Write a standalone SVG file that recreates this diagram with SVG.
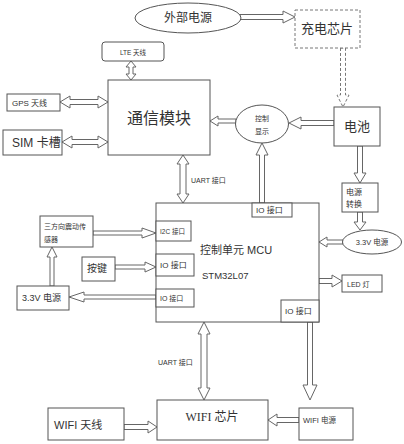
<svg xmlns="http://www.w3.org/2000/svg" width="404" height="444" viewBox="0 0 404 444">
<style>
.b{fill:#fff;stroke:#555;stroke-width:1}
.a{fill:#fff;stroke:#666;stroke-width:1;stroke-linejoin:miter}
.d{fill:#fff;stroke:#777;stroke-width:1;stroke-dasharray:3,2}
text{font-family:"Liberation Sans","Noto Sans CJK SC",sans-serif;fill:#333;dominant-baseline:central}
.c{text-anchor:middle}
</style>
<rect width="404" height="444" fill="#fff"/>
<g id="connectors">
<polygon class="a" points="240,14.5 283,14.5 283,11 295,17 283,23 283,19.5 240,19.5"/>
<polygon class="d" points="340.5,48 340.5,95 337,95 343,107 349,95 345.5,95 345.5,48"/>
<polygon class="a" points="334,120.5 301,120.5 301,117 289,123 301,129 301,125.5 334,125.5"/>
<polygon class="a" points="236,119 218,119 218,116 210,121 218,126 218,123 236,123"/>
<polygon class="a" points="259.5,203 259.5,155 256,155 262,143 268,155 264.5,155 264.5,203"/>
<polygon class="a" points="131,61 136,67 133,67 133,74 136,74 131,80 126,74 129,74 129,67 126,67"/>
<polygon class="a" points="60,102 70,96 70,99.5 98,99.5 98,96 108,102 98,108 98,104.5 70,104.5 70,108"/>
<polygon class="a" points="62,142 72,136 72,139.5 98,139.5 98,136 108,142 98,148 98,144.5 72,144.5 72,148"/>
<polygon class="a" points="183,155 189,164 186,164 186,194 189,194 183,203 177,194 180,194 180,164 177,164"/>
<polygon class="a" points="93,231 142,231 142,228 156,233 142,238 142,235 93,235"/>
<polygon class="a" points="115,265 145,265 145,262 156,267 145,272 145,269 115,269"/>
<polygon class="a" points="156,295 84,295 84,292 69,297 84,302 84,299 156,299"/>
<polygon class="a" points="50,286 50,257 47,257 52,247 57,257 54,257 54,286"/>
<polygon class="a" points="357.5,146 357.5,173 354,173 360,183 366,173 362.5,173 362.5,146"/>
<polygon class="a" points="357.5,212 357.5,222 354,222 360,230 366,222 362.5,222 362.5,212"/>
<polygon class="a" points="343,240 327,240 327,237 319,242 327,247 327,244 343,244"/>
<polygon class="a" points="319,278.5 332,278.5 332,275 342,281 332,287 332,283.5 319,283.5"/>
<polygon class="a" points="307.5,322 307.5,385 303,385 310,400 317,385 312.5,385 312.5,322"/>
<polygon class="a" points="204,322 210,334 207,334 207,388 210,388 204,400 198,388 201,388 201,334 198,334"/>
<polygon class="a" points="124,424.5 148,424.5 148,421 157,427 148,433 148,429.5 124,429.5"/>
<polygon class="a" points="299,417.5 277,417.5 277,414 268,420 277,426 277,422.5 299,422.5"/>
</g>
<g id="ext-power"><ellipse class="b" cx="188" cy="18" rx="53" ry="15"/><text class="c" x="188" y="18" font-size="12">外部电源</text></g>
<g id="charger"><rect class="d" x="295" y="10" width="65" height="38"/><text class="c" x="327" y="28" font-size="13">充电芯片</text></g>
<g id="battery"><rect class="b" x="334" y="107" width="46" height="39"/><text class="c" x="357" y="126" font-size="13">电池</text></g>
<g id="display-ctrl"><ellipse class="b" cx="262" cy="124" rx="26.5" ry="19"/><text class="c" x="262" y="118" font-size="7">控制</text><text class="c" x="262" y="131" font-size="7">显示</text></g>
<g id="comm"><rect class="b" x="108" y="80" width="102" height="75"/><text class="c" x="159" y="118" font-size="16">通信模块</text></g>
<g id="lte"><rect class="b" x="102" y="42" width="62" height="19" rx="3"/><text class="c" x="133" y="52" font-size="6.5">LTE 天线</text></g>
<g id="gps"><rect class="b" x="7" y="94" width="53" height="17"/><text x="12" y="103" font-size="8">GPS 天线</text></g>
<g id="sim"><rect class="b" x="3" y="130" width="59" height="25"/><text x="12" y="143" font-size="12">SIM 卡槽</text></g>
<text x="191" y="180" font-size="7">UART 接口</text>
<g id="mcu"><rect class="b" x="156" y="203" width="163" height="119"/><text x="200" y="250" font-size="11">控制单元 MCU</text><text x="202" y="275" font-size="9.5">STM32L07</text>
<rect class="b" x="156" y="221" width="35" height="20"/><text x="160" y="231" font-size="6.5">I2C 接口</text>
<rect class="b" x="156" y="254" width="38" height="22"/><text x="160" y="265" font-size="8">IO 接口</text>
<rect class="b" x="156" y="289" width="38" height="18"/><text x="160" y="298" font-size="7">IO 接口</text>
<rect class="b" x="252" y="203" width="40" height="14"/><text x="256" y="210" font-size="8">IO 接口</text>
<rect class="b" x="281" y="300" width="38" height="22"/><text x="285" y="311" font-size="8">IO 接口</text></g>
<g id="vib"><rect class="b" x="40" y="216" width="53" height="31"/><text x="44" y="226" font-size="7">三方向震动传</text><text x="44" y="239" font-size="7">感器</text></g>
<g id="key"><rect class="b" x="82" y="257" width="33" height="24"/><text x="87" y="268" font-size="10">按键</text></g>
<g id="pwr33-left"><rect class="b" x="17" y="286" width="52" height="24"/><text x="22" y="298" font-size="9">3.3V 电源</text></g>
<g id="conv"><rect class="b" x="342" y="183" width="36" height="29"/><text x="346" y="192" font-size="8">电源</text><text x="346" y="204" font-size="8">转换</text></g>
<g id="pwr33-right"><ellipse class="b" cx="372" cy="242" rx="29.5" ry="12"/><text class="c" x="372" y="242" font-size="7.5">3.3V 电源</text></g>
<g id="led"><rect class="b" x="342" y="275" width="40" height="17"/><text x="347" y="284" font-size="7">LED 灯</text></g>
<text x="158" y="362" font-size="7">UART 接口</text>
<g id="wifi-ant"><rect class="b" x="48" y="408" width="76" height="32"/><text x="54" y="425" font-size="11">WIFI  天线</text></g>
<g id="wifi-chip"><rect class="b" x="157" y="400" width="111" height="40"/><text class="c" x="212" y="417" font-size="12" style="font-family:'Liberation Serif','Noto Sans CJK SC',serif">WIFI  芯片</text></g>
<g id="wifi-pwr"><rect class="b" x="299" y="408" width="54" height="32"/><text x="303" y="420" font-size="7.5">WIFI 电源</text></g>
</svg>
